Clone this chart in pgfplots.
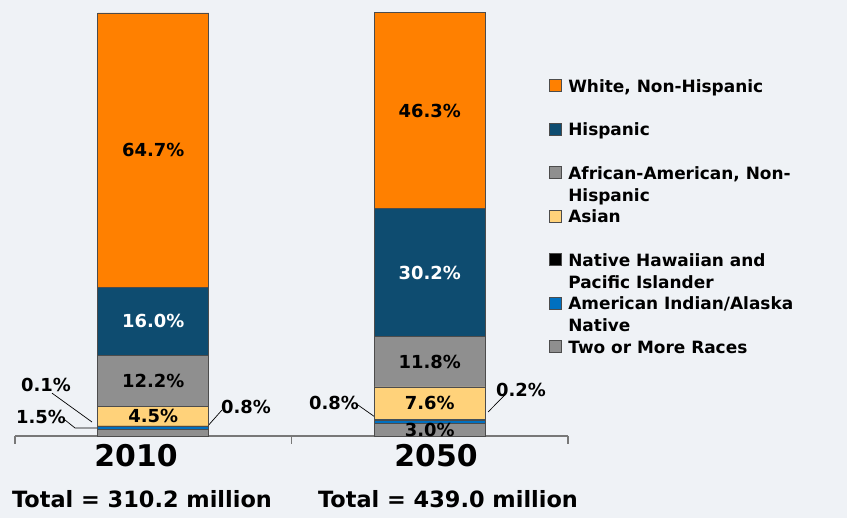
\documentclass[border=0pt]{standalone}
\usepackage{fontspec}
\setmainfont{DejaVu Sans}
\usepackage{pgfplots}
\pgfplotsset{compat=1.18}

\definecolor{bgcol}{RGB}{239,242,246}
\definecolor{cWhite}{RGB}{255,128,0}
\definecolor{cHisp}{RGB}{14,76,112}
\definecolor{cGray}{RGB}{143,143,143}
\definecolor{cAsian}{RGB}{255,210,122}
\definecolor{cAmInd}{RGB}{0,112,192}
\definecolor{cAxis}{RGB}{120,120,120}

\newcommand{\pctfont}{\fontsize{18}{20}\selectfont\bfseries}

\begin{document}
\begin{tikzpicture}
\fill[bgcol] (0,0) rectangle (847bp,518bp);
\begin{axis}[
  at={(15bp,82bp)}, anchor=south west,
  scale only axis, width=553bp, height=424bp,
  xmin=-0.5, xmax=1.5, ymin=0, ymax=100,
  enlargelimits=false,
  ybar stacked, bar width=111bp,
  axis x line*=bottom, axis y line=none,
  xtick={-0.5,0.5,1.5}, xticklabels={},
  tick align=outside, major tick length=8bp,
  axis line style={draw=cAxis, line width=1.2bp},
  tick style={draw=cAxis, line width=1.2bp},
  clip=false,
  every axis plot/.append style={draw=black!70, line width=0.6bp},
  point meta=explicit symbolic,
  nodes near coords,
  every node near coord/.append style={anchor=center, font=\pctfont, text=black},
  reverse legend,
  legend cell align=left,
  legend image code/.code={\draw[#1] (0bp,9.5bp) rectangle (12bp,21.5bp);
    \path[draw=none, fill=none] (0bp,10bp) -- (19bp,10bp);},
  legend style={at={(axis cs:1.4313,84.2)}, anchor=north west,
    draw=none, fill=none, inner sep=0pt, outer sep=0pt, row sep=0pt,
    font=\fontsize{17}{22}\selectfont\bfseries,
    nodes={inner sep=0pt, outer sep=0pt, text height=13bp, text depth=30.5bp}},
]
% bottom to top
\addplot[fill=cGray] coordinates {(0,1.5) [] (1,3.0) [3.0\%]};
\addlegendentry{Two or More Races}
\addplot[fill=cAmInd] coordinates {(0,0.8) [] (1,0.8) []};
\addlegendentry{\begin{tabular}[t]{@{}l@{}}American Indian/Alaska\\Native\end{tabular}}
\addplot[fill=black] coordinates {(0,0.1) [] (1,0.2) []};
\addlegendentry{\begin{tabular}[t]{@{}l@{}}Native Hawaiian and\\Pacific Islander\end{tabular}}
\addplot[fill=cAsian] coordinates {(0,4.5) [4.5\%] (1,7.6) [7.6\%]};
\addlegendentry{Asian}
\addplot[fill=cGray] coordinates {(0,12.2) [12.2\%] (1,11.8) [11.8\%]};
\addlegendentry{\begin{tabular}[t]{@{}l@{}}African-American, Non-\\Hispanic\end{tabular}}
\addplot[fill=cHisp, every node near coord/.append style={text=white}]
  coordinates {(0,16.0) [16.0\%] (1,30.2) [30.2\%]};
\addlegendentry{Hispanic}
\addplot[fill=cWhite] coordinates {(0,64.7) [64.7\%] (1,46.3) [46.3\%]};
\addlegendentry{White, Non-Hispanic}

% small segments with leader lines
\draw[black, line width=0.7bp] (axis cs:-0.366,10.1) -- (axis cs:-0.2215,3.3);
\node[font=\pctfont] at (axis cs:-0.388,12.0) {0.1\%};
\draw[black, line width=0.7bp] (axis cs:-0.319,3.77) -- (axis cs:-0.283,1.89) -- (axis cs:-0.203,1.89);
\node[font=\pctfont] at (axis cs:-0.406,4.5) {1.5\%};
\draw[black, line width=0.7bp] (axis cs:0.194,2.12) -- (axis cs:0.2486,6.13);
\node[font=\pctfont] at (axis cs:0.3354,6.84) {0.8\%};
\draw[black, line width=0.7bp] (axis cs:0.7405,7.31) -- (axis cs:0.802,4.48);
\node[font=\pctfont] at (axis cs:0.6537,7.78) {0.8\%};
\draw[black, line width=0.7bp] (axis cs:1.272,9.67) -- (axis cs:1.2107,5.66);
\node[font=\pctfont] at (axis cs:1.33,10.85) {0.2\%};

% category labels and totals
\node[anchor=base, font=\fontsize{30}{34}\selectfont\bfseries] at (axis cs:-0.0624,-7.31) {2010};
\node[anchor=base, font=\fontsize{30}{34}\selectfont\bfseries] at (axis cs:1.0226,-7.31) {2050};
\node[anchor=base, font=\fontsize{22.5}{26}\selectfont\bfseries] at (axis cs:-0.0407,-16.98) {Total = 310.2 million};
\node[anchor=base, font=\fontsize{22.5}{26}\selectfont\bfseries] at (axis cs:1.066,-16.98) {Total = 439.0 million};
\end{axis}
\end{tikzpicture}
\end{document}
